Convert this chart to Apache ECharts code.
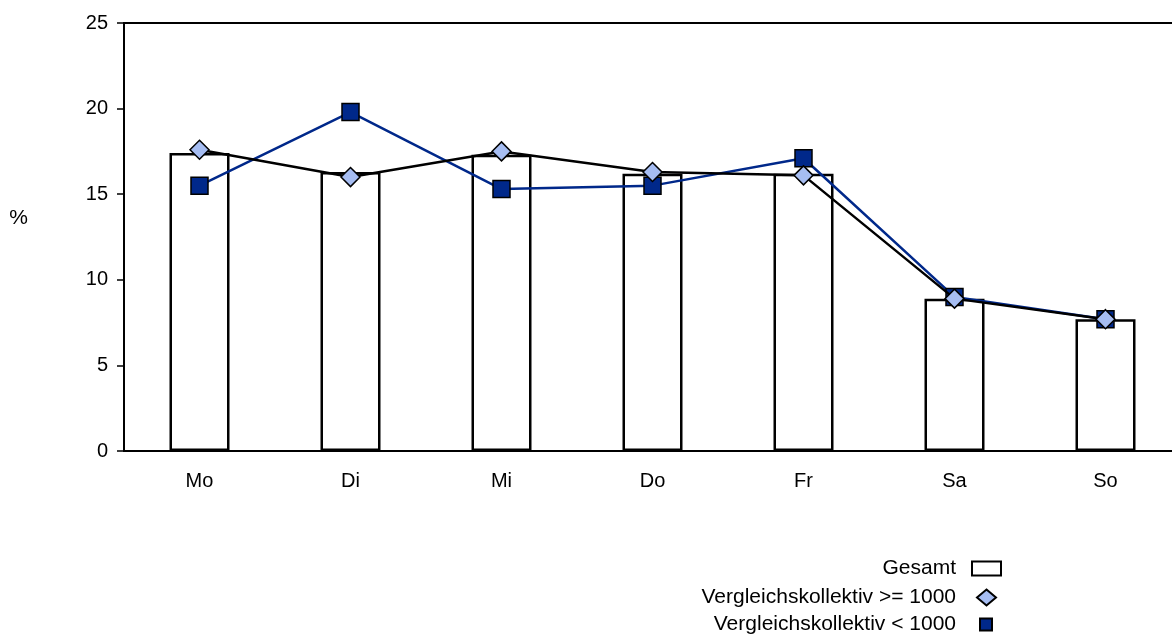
<!DOCTYPE html>
<html>
<head>
<meta charset="utf-8">
<script src="https://cdn.jsdelivr.net/npm/echarts@6/dist/echarts.min.js"></script>
<style>
  html, body { margin: 0; padding: 0; background: #ffffff; }
  #chart { width: 1172px; height: 637px; }
</style>
</head>
<body>
<div id="chart"></div>
<script>
// Weekday shares (%)
const days = ['Mo', 'Di', 'Mi', 'Do', 'Fr', 'Sa', 'So'];
const gesamt = [17.4, 16.3, 17.3, 16.2, 16.2, 8.9, 7.7];
const groupLarge = [17.6, 16.0, 17.5, 16.3, 16.1, 8.9, 7.7];
const groupSmall = [15.5, 19.8, 15.3, 15.5, 17.1, 9.0, 7.7];
const yTicks = { min: 0, max: 25, interval: 5 };

const nameGesamt = 'Gesamt';
const nameLarge = 'Vergleichskollektiv >= 1000';
const nameSmall = 'Vergleichskollektiv < 1000';

const font = 'Liberation Sans, Arial, sans-serif';
const axisFontSize = 20;
const legendFontSize = 21;
const lightBlue = '#a6bdf2';
const navy = '#00288a';

const legendText = (padRight) => ({
  color: '#000', fontFamily: font, fontSize: legendFontSize, padding: [0, padRight, 0, 0]
});

const chart = echarts.init(document.getElementById('chart'));
chart.setOption({
  animation: false,
  backgroundColor: '#ffffff',
  // plot area runs past the right edge of the canvas, so only its top border shows
  grid: {
    left: 124, top: 23, width: 1057, height: 428,
    outerBoundsMode: 'none',
    show: true, borderColor: '#000', borderWidth: 2, backgroundColor: 'transparent'
  },
  xAxis: {
    type: 'category',
    data: days,
    axisLine: { lineStyle: { color: '#000', width: 2 } },
    axisTick: { show: false },
    axisLabel: { color: '#000', fontFamily: font, fontSize: axisFontSize, margin: 20 },
    splitLine: { show: false }
  },
  yAxis: {
    type: 'value',
    min: yTicks.min, max: yTicks.max, interval: yTicks.interval,
    name: '%',
    nameLocation: 'middle',
    nameRotate: 0,
    nameGap: 96,
    nameTextStyle: {
      color: '#000', fontFamily: font, fontSize: legendFontSize,
      verticalAlign: 'bottom', padding: [0, 0, 8, 0]
    },
    axisLine: { show: true, lineStyle: { color: '#000', width: 2 } },
    axisTick: { show: true, length: 7, lineStyle: { color: '#000', width: 1.5 } },
    axisLabel: { color: '#000', fontFamily: font, fontSize: axisFontSize, margin: 16 },
    splitLine: { show: false }
  },
  legend: [
    {
      data: [{ name: nameGesamt, icon: 'rect' }],
      orient: 'vertical', align: 'right', padding: 0,
      right: 170, top: 558,
      itemWidth: 29, itemHeight: 14,
      textStyle: legendText(11),
      selectedMode: false
    },
    {
      data: [{ name: nameLarge, icon: 'diamond' }],
      orient: 'vertical', align: 'right', padding: 0,
      right: 175, top: 587,
      itemWidth: 19, itemHeight: 16,
      textStyle: legendText(16),
      selectedMode: false
    },
    {
      data: [{ name: nameSmall, icon: 'rect' }],
      orient: 'vertical', align: 'right', padding: 0,
      right: 179, top: 614,
      itemWidth: 12, itemHeight: 12,
      textStyle: legendText(19),
      selectedMode: false
    }
  ],
  series: [
    {
      name: nameGesamt,
      type: 'bar',
      data: gesamt,
      barWidth: 60,
      itemStyle: { color: '#ffffff', borderColor: '#000', borderWidth: 2.5 },
      z: 2
    },
    {
      name: nameSmall,
      type: 'line',
      data: groupSmall,
      symbol: 'rect',
      symbolSize: 17,
      lineStyle: { color: navy, width: 2.5 },
      itemStyle: { color: navy, borderColor: '#000', borderWidth: 1.5 },
      z: 3
    },
    {
      name: nameLarge,
      type: 'line',
      data: groupLarge,
      symbol: 'diamond',
      symbolSize: 19,
      lineStyle: { color: '#000', width: 2.5 },
      itemStyle: { color: lightBlue, borderColor: '#000', borderWidth: 1.5 },
      z: 4
    }
  ]
});
</script>
</body>
</html>
